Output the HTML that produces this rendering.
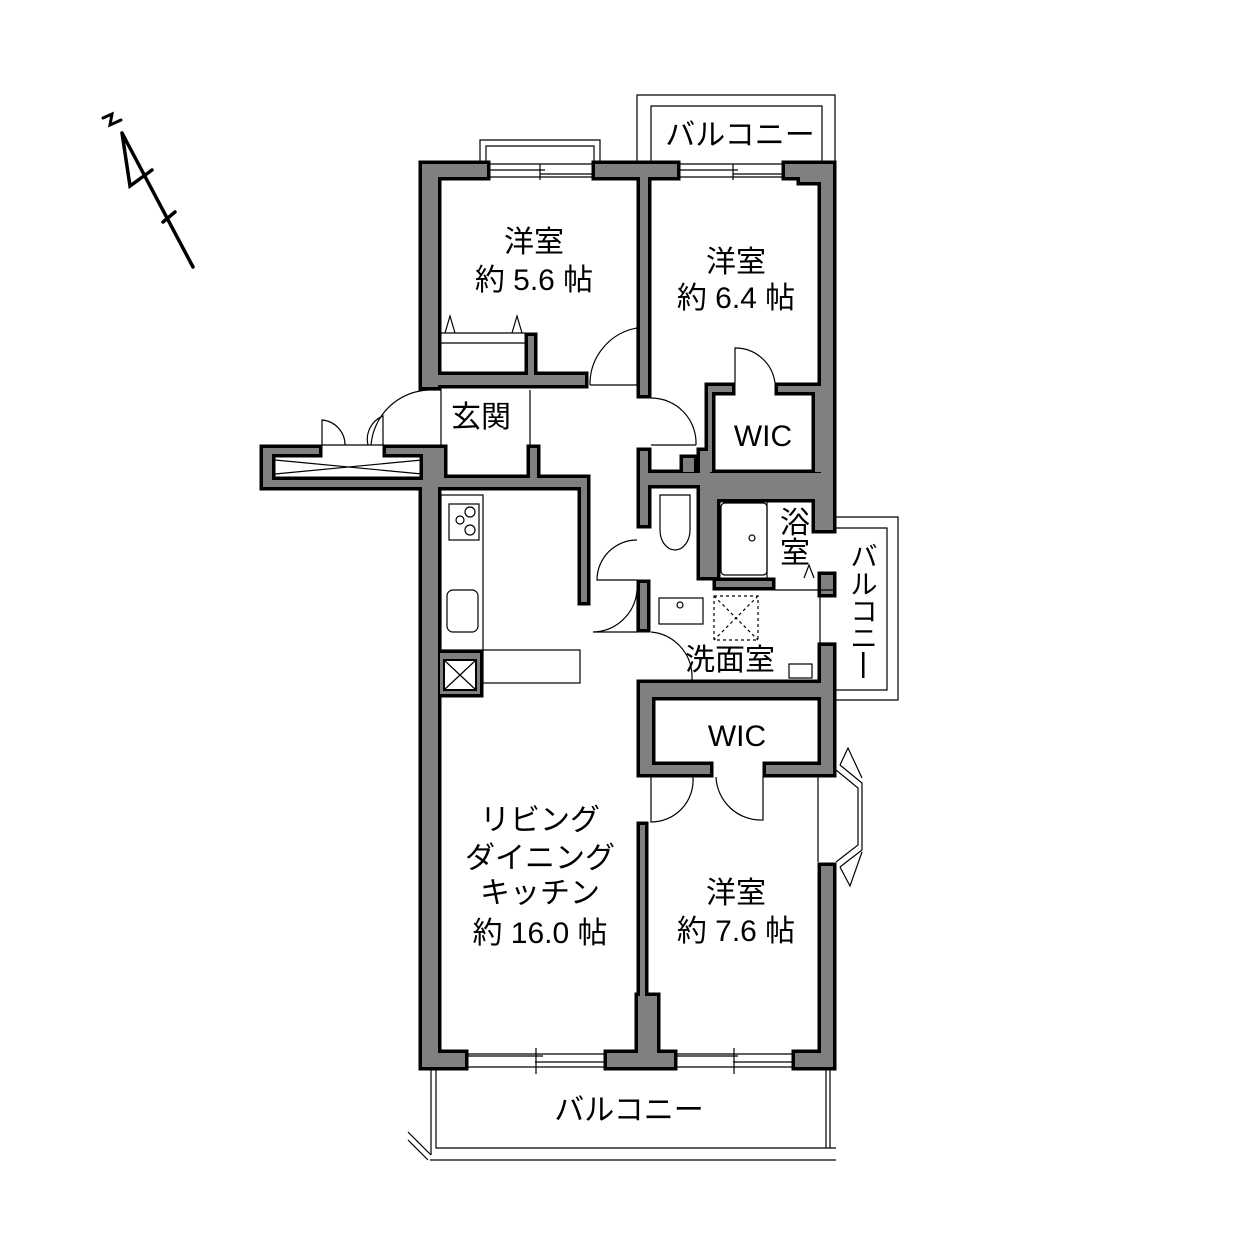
<!DOCTYPE html>
<html><head><meta charset="utf-8"><style>
html,body{margin:0;padding:0;background:#fff}
svg{display:block}
text{font-family:"Liberation Sans","Noto Sans CJK JP",sans-serif;fill:#000}
</style></head><body>
<svg width="1252" height="1252" viewBox="0 0 1252 1252" xmlns="http://www.w3.org/2000/svg">
<defs>
<g id="w">
<rect x="422" y="164" width="16" height="223"/>
<rect x="422" y="164" width="65" height="13"/>
<rect x="595" y="164" width="53" height="13"/>
<rect x="640" y="164" width="8" height="231"/>
<rect x="643" y="164" width="34" height="13"/>
<rect x="785" y="164" width="48" height="13"/>
<rect x="800" y="164" width="33" height="18"/>
<rect x="821" y="164" width="12" height="363"/>
<rect x="422" y="375" width="163" height="10"/>
<rect x="528" y="336" width="6" height="49"/>
<rect x="263" y="448" width="56" height="6"/>
<rect x="386" y="448" width="52" height="6"/>
<rect x="263" y="448" width="9" height="39"/>
<rect x="263" y="480" width="175" height="7"/>
<rect x="423" y="448" width="21" height="39"/>
<rect x="423" y="478" width="164" height="9"/>
<rect x="581" y="478" width="6" height="124"/>
<rect x="530" y="448" width="7" height="39"/>
<rect x="422" y="483" width="16" height="584"/>
<rect x="422" y="1053" width="43" height="14"/>
<rect x="607" y="1053" width="67" height="14"/>
<rect x="638" y="996" width="19" height="70"/>
<rect x="795" y="1053" width="38" height="14"/>
<rect x="640" y="825" width="5" height="228"/>
<rect x="821" y="866" width="12" height="201"/>
<rect x="640" y="451" width="8" height="74"/>
<rect x="643" y="473" width="190" height="12"/>
<rect x="683" y="458" width="11" height="14"/>
<rect x="700" y="451" width="10" height="34"/>
<rect x="708" y="386" width="4" height="86"/>
<rect x="708" y="386" width="24" height="6"/>
<rect x="778" y="386" width="55" height="6"/>
<rect x="815" y="386" width="18" height="86"/>
<rect x="700" y="473" width="133" height="26"/>
<rect x="700" y="488" width="17" height="89"/>
<rect x="716" y="581" width="56" height="6"/>
<rect x="815" y="488" width="18" height="42"/>
<rect x="821" y="575" width="12" height="19"/>
<rect x="640" y="583" width="7" height="46"/>
<rect x="821" y="646" width="12" height="48"/>
<rect x="640" y="683" width="193" height="14"/>
<rect x="640" y="683" width="12" height="91"/>
<rect x="640" y="765" width="70" height="9"/>
<rect x="766" y="765" width="67" height="9"/>
<rect x="821" y="683" width="12" height="91"/>
<rect x="440" y="653" width="40" height="41"/>
</g>
</defs>
<use href="#w" fill="#000" stroke="#000" stroke-width="7" stroke-linejoin="miter"/>
<use href="#w" fill="#808080"/>

<g fill="none" stroke="#000" stroke-width="1.2">
<rect x="444" y="660" width="32" height="30" fill="#fff" stroke-width="2"/>
<path d="M444 660L476 690M476 660L444 690"/>
<path d="M275 460L422 474M275 474L422 460"/>
<path d="M490 164H592M490 177H592M490 170H545M540 174H592M540 164V180"/>
<path d="M680 164H782M680 177H782M680 170H738M733 174H782M733 164V180"/>
<path d="M468 1054H604M468 1067H604M468 1056H543M535 1062H604M536 1048V1074"/>
<path d="M677 1054H792M677 1067H792M677 1056H738M733 1062H792M734 1048V1074"/>
<path d="M637 161V95H835V161M651 161V106H822V161"/>
<path d="M480 161V140H600V161M486 161V146H594V161"/>
<path d="M836 517H898V700H836M836 528H887V690H836"/>
<path d="M431 1070V1155M436 1070V1148H836M826 1070V1148M830 1070V1148M430 1160H836M408 1132L431 1155M408 1140L428 1160"/>
<path d="M836 770L858 788V845L836 862M840 765L862 783V850L840 867M818 777V862"/>
<path d="M840 765L848 748L862 778M840 867L850 886L862 852"/>
<rect x="441" y="495" width="42" height="155"/>
<rect x="449" y="504" width="30" height="36"/>
<circle cx="460" cy="520" r="4"/><circle cx="470" cy="512" r="5"/><circle cx="470" cy="530" r="5"/>
<rect x="447" y="590" width="31" height="42" rx="6"/>
<rect x="483" y="650" width="97" height="33"/>
<path d="M441 333H525M441 343H525M445 333L450 316L455 333M512 333L517 316L522 333"/>
<path d="M637 385V328A57 57 0 0 0 590 385M590 385H637"/>
<path d="M441 390H429A60 60 0 0 0 371 445"/>
<path d="M322 445V420A25 25 0 0 1 345 445M383 445V416A25 25 0 0 0 368 445M322 445H383"/>
<path d="M530 390V448M441 390V448"/>
<path d="M651 398A45 45 0 0 1 696 445M651 445H696"/>
<path d="M735 383V348A40 40 0 0 1 775 383"/>
<path d="M637 540A40 40 0 0 0 597 580H637"/>
<path d="M637 590V632H593A45 45 0 0 0 637 590"/>
<path d="M651 632A45 45 0 0 1 692 675V680"/>
<path d="M651 777V822A42 42 0 0 0 693 777"/>
<path d="M716 777A45 45 0 0 0 763 820V777"/>
<path d="M820 590H836M820 643H836M820 590V643"/>
<path d="M660 495H690V530A15 20 0 0 1 660 530Z"/>
<rect x="721" y="503" width="46" height="72" rx="4"/>
<circle cx="752" cy="538" r="3"/>
<path d="M767 502V578M775 590H818M804 578L809 565L814 578"/>
<rect x="659" y="598" width="44" height="26"/>
<circle cx="680" cy="605" r="3"/>
<rect x="789" y="664" width="23" height="14"/>
<path d="M714 596H758V640H714ZM714 596L758 640M758 596L714 640" stroke-dasharray="3 3"/>
</g>

<g stroke="#000" stroke-width="3.5" fill="none" stroke-linecap="round">
<path d="M122 133L193 267M122 133L130 186L152 170M163 222L175 212"/>
<path d="M103 118L112 114L110 125L121 120" stroke-width="3"/>
</g>

<g font-size="30" text-anchor="middle">
<text x="534" y="252">洋室</text>
<text x="534" y="290">約 5.6 帖</text>
<text x="736" y="272">洋室</text>
<text x="736" y="308">約 6.4 帖</text>
<text x="481" y="427">玄関</text>
<text x="763" y="446">WIC</text>
<text x="795" y="533">浴</text>
<text x="795" y="563">室</text>
<text x="730" y="670">洗面室</text>
<text x="737" y="746">WIC</text>
<text x="540" y="830">リビング</text>
<text x="540" y="868">ダイニング</text>
<text x="540" y="903">キッチン</text>
<text x="540" y="943">約 16.0 帖</text>
<text x="736" y="903">洋室</text>
<text x="736" y="941">約 7.6 帖</text>
<text x="629" y="1120">バルコニー</text>
<text x="740" y="145">バルコニー</text>
</g>
<g font-size="27" text-anchor="middle">
<text x="864" y="566">バ</text>
<text x="864" y="594">ル</text>
<text x="864" y="621">コ</text>
<text x="864" y="648">ニ</text>
</g>
<rect x="862" y="652" width="2.5" height="26" fill="#000"/>
</svg>
</body></html>
